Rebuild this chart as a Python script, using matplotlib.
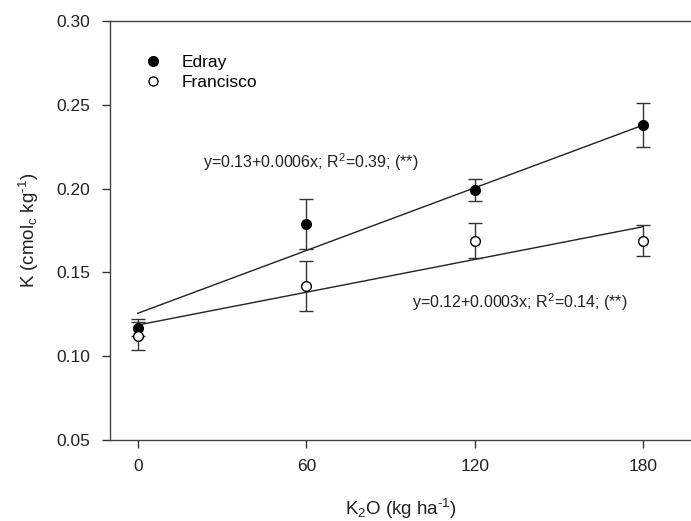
import numpy as np
import matplotlib
matplotlib.use("Agg")
import matplotlib.pyplot as plt
from matplotlib.lines import Line2D

plt.rcParams['font.family'] = ['Liberation Sans', 'DejaVu Sans']
plt.rcParams['mathtext.fontset'] = 'custom'
plt.rcParams['mathtext.rm'] = 'Liberation Sans'
plt.rcParams['mathtext.it'] = 'Liberation Sans:italic'

# K2O rates (kg/ha)
doses = [0, 60, 120, 180]

# soil K (cmolc/kg), means and error bars
edray = [0.117, 0.179, 0.199, 0.238]
edray_err = [0.005, 0.015, 0.0065, 0.013]
francisco = [0.112, 0.142, 0.169, 0.169]
francisco_err = [0.0085, 0.015, 0.0105, 0.0095]

# fitted lines (intercept, slope) as drawn
edray_fit = (0.1256, 0.000624)
francisco_fit = (0.1186, 0.000326)

fig = plt.figure(figsize=(6.91, 5.21), dpi=100)
ax = fig.add_axes([0.1592, 0.1555, 0.8408, 0.8042])

xs = np.array([doses[0], doses[-1]])
ax.plot(xs, edray_fit[0] + edray_fit[1] * xs, color='#222222', lw=1.0, zorder=2)
ax.plot(xs, francisco_fit[0] + francisco_fit[1] * xs, color='#222222', lw=1.0, zorder=2)

ax.errorbar(doses, edray, yerr=edray_err, fmt='o', color='black', ecolor='#333333',
            markersize=7, capsize=5, elinewidth=1, capthick=1, zorder=3)
ax.errorbar(doses, francisco, yerr=francisco_err, fmt='o', mfc='white', mec='black',
            ecolor='#333333', markersize=7, capsize=5, elinewidth=1, capthick=1, zorder=3)

ax.set_xlim(-9.9, 197)
ax.set_ylim(0.05, 0.30)
ax.set_xticks(doses)
ax.set_yticks([0.05, 0.10, 0.15, 0.20, 0.25, 0.30])
ax.set_yticklabels(['0.05', '0.10', '0.15', '0.20', '0.25', '0.30'])
ax.tick_params(direction='out', length=6, width=1, colors='#333333', labelsize=12.5,
               labelcolor='#222222', pad=8)

for s in ['left', 'top', 'bottom']:
    ax.spines[s].set_color('#444444')
    ax.spines[s].set_linewidth(1.0)
ax.spines['right'].set_visible(False)

ax.text(61.5, 0.2155, 'y=0.13+0.0006x; R$^2$=0.39; (**)', fontsize=11.5,
        ha='center', va='center', color='#222222')
ax.text(136, 0.1325, 'y=0.12+0.0003x; R$^2$=0.14; (**)', fontsize=11.5,
        ha='center', va='center', color='#222222')

handles = [
    Line2D([], [], ls='none', marker='o', color='black', markersize=7),
    Line2D([], [], ls='none', marker='o', mfc='white', mec='black', markersize=6.5),
]
ax.legend(handles, ['Edray', 'Francisco'], loc='upper left',
          bbox_to_anchor=(0.03, 0.956), frameon=False, fontsize=12.5,
          handletextpad=1.0, labelspacing=0.28, handlelength=1.2)

ax.set_xlabel('K$_2$O (kg ha$^{\\text{-}1}$)', fontsize=13.5, labelpad=16, color='#222222')
ax.set_ylabel('K (cmol$_\\mathrm{c}$ kg$^{\\text{-}1}$)', fontsize=13.5, labelpad=11,
              color='#222222')

fig.savefig('out.png', dpi=100)
